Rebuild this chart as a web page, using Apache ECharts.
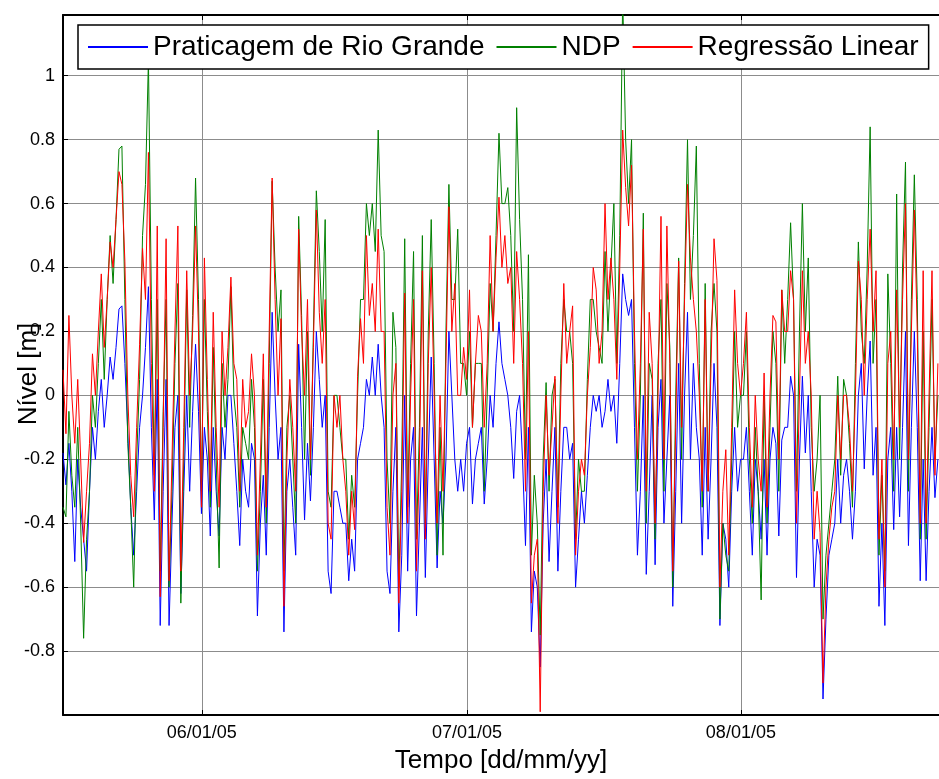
<!DOCTYPE html>
<html>
<head>
<meta charset="utf-8">
<script src="https://cdn.jsdelivr.net/npm/echarts@6/dist/echarts.min.js"></script>
<style>
  html, body { margin: 0; padding: 0; background: #fff; }
  #chart { width: 939px; height: 779px; }
</style>
</head>
<body>
<div id="chart"></div>
<script>
// amostras a cada 8 h, a partir de 16/05/2005 07:00
const startTime = new Date(2005, 4, 16, 7).getTime()
const stepHours = 8

const praticagem = [
  -0.18, -0.28, -0.15,  -0.30, -0.52, -0.20,  -0.35, -0.45, -0.55,  -0.30, -0.10, -0.20,
  -0.05, 0.05, -0.10,   0.00, 0.12, 0.05,     0.15, 0.27, 0.28,     0.10, -0.12, -0.35,
  -0.50, -0.30, -0.10,  0.00, 0.15, 0.34,     -0.10, -0.39, 0.05,   -0.72, -0.30, 0.05,
  -0.72, -0.40, -0.10,  0.00, -0.62, -0.30,   0.00, -0.30, -0.05,   0.16, -0.05, -0.37,
  -0.10, -0.20, -0.44,  -0.10, -0.30, -0.44,  -0.10, -0.20, 0.00,   0.00, -0.15, -0.30,
  -0.47, -0.20, -0.30,  -0.35, -0.15, -0.20,  -0.69, -0.40, -0.25,  -0.50, -0.10, 0.26,
  0.00, -0.20, -0.10,   -0.74, -0.30, -0.20,  -0.35, -0.50, 0.16,   -0.10, -0.39, -0.15,
  -0.33, -0.10, 0.20,   0.05, -0.10, 0.00,    -0.55, -0.62, -0.30,  -0.30, -0.35, -0.40,
  -0.40, -0.58, -0.45,  -0.55, -0.20, -0.15,  -0.10, 0.05, 0.00,    0.12, 0.00, 0.16,
  0.00, -0.10, -0.55,   -0.62, -0.30, -0.10,  -0.74, -0.50, 0.00,   -0.55, -0.20, -0.10,
  -0.69, -0.40, -0.10,  -0.57, -0.20, 0.12,   -0.20, -0.54, -0.30,  -0.40, -0.20, 0.20,
  0.00, -0.20, -0.30,   -0.20, -0.30, -0.15,  -0.10, -0.34, -0.20,  -0.15, -0.10, -0.34,
  -0.20, 0.00, -0.10,   0.10, 0.23, 0.10,     0.05, 0.00, -0.10,    -0.26, -0.05, 0.00,
  -0.20, -0.47, -0.10,  -0.74, -0.55, -0.60,  -0.85, -0.40, -0.20,  -0.52, -0.30, -0.10,
  -0.55, -0.30, -0.10,  -0.10, -0.20, -0.15,  -0.60, -0.45, -0.30,  -0.40, -0.25, -0.10,
  0.00, -0.05, 0.00,    -0.10, -0.05, 0.05,   -0.05, 0.00, -0.15,   0.10, 0.38, 0.30,
  0.25, 0.30, -0.10,    -0.50, -0.30, 0.00,   -0.56, -0.30, 0.00,   -0.53, -0.10, 0.05,
  -0.40, -0.20, 0.00,   -0.66, -0.30, 0.10,   -0.40, 0.00, 0.26,    -0.20, 0.10, -0.10,
  -0.20, -0.50, -0.10,  -0.45, -0.20, 0.10,   -0.10, -0.72, -0.40,  -0.45, -0.60, -0.30,
  -0.10, -0.30, -0.20,  -0.20, -0.10, -0.30,  -0.50, -0.20, -0.30,  -0.45, -0.20, -0.50,
  -0.20, -0.10, -0.15,  -0.44, -0.14, -0.10,  -0.10, 0.06, 0.00,    -0.57, -0.20, 0.06,
  -0.18, 0.00, -0.30,   -0.60, -0.45, -0.50,  -0.95, -0.70, -0.50,  -0.45, -0.40, -0.20,
  -0.40, -0.25, -0.20,  -0.30, -0.45, -0.30,  0.00, 0.10, -0.23,    0.00, 0.17, -0.25,
  -0.10, -0.66, -0.40,  -0.72, -0.20, -0.10,  -0.42, -0.10, -0.38,  -0.10, 0.20, -0.47,
  -0.10, 0.20, -0.10,   -0.58, -0.20, -0.58,  -0.30, -0.10, -0.32,  -0.20
]

const ndp = [
  -0.35, -0.38, -0.05,  -0.25, -0.35, -0.10,  -0.40, -0.76, -0.45,  -0.30, 0.00, -0.10,
  0.10, 0.30, 0.05,     0.30, 0.50, 0.35,     0.55, 0.77, 0.78,     0.30, -0.15, -0.35,
  -0.60, -0.20, 0.05,   0.50, 0.66, 1.05,     0.30, -0.25, 0.30,    -0.55, -0.05, 0.30,
  -0.60, -0.30, 0.10,   0.35, -0.65, -0.20,   0.33, -0.10, 0.25,    0.68, 0.30, -0.30,
  0.30, -0.05, -0.35,   0.15, -0.20, -0.54,   0.10, -0.10, 0.05,    0.34, 0.00, -0.10,
  -0.35, -0.10, -0.15,  -0.20, 0.05, -0.10,   -0.55, -0.30, 0.05,   -0.40, 0.10, 0.67,
  0.40, 0.20, 0.33,     -0.55, -0.10, 0.00,   -0.20, -0.40, 0.56,   0.25, -0.20, 0.20,
  -0.25, 0.20, 0.64,    0.45, 0.20, 0.55,     -0.30, -0.35, 0.00,   0.00, -0.10, -0.20,
  -0.20, -0.45, -0.25,  -0.35, 0.00, 0.30,    0.30, 0.60, 0.50,     0.60, 0.45, 0.83,
  0.50, 0.45, -0.20,    -0.40, 0.26, 0.15,    -0.60, -0.20, 0.49,   -0.35, 0.10, 0.45,
  -0.45, -0.10, 0.50,   -0.40, 0.20, 0.55,    0.10, -0.50, -0.10,   -0.50, 0.20, 0.66,
  0.30, 0.30, 0.52,     0.10, 0.10, 0.00,     0.20, -0.10, 0.10,    0.10, 0.10, -0.30,
  0.00, 0.35, 0.20,     0.50, 0.82, 0.60,     0.60, 0.65, 0.50,     0.20, 0.90, 0.55,
  0.30, -0.20, 0.44,    -0.50, -0.25, -0.40,  -0.75, -0.20, 0.04,   -0.30, 0.00, 0.05,
  -0.35, 0.10, 0.30,    0.20, 0.20, 0.10,     -0.45, -0.20, -0.30,  -0.30, 0.05, 0.30,
  0.30, 0.20, 0.15,     0.10, 0.45, 0.20,     0.40, 0.60, 0.10,     0.50, 1.25, 0.80,
  0.60, 0.80, 0.10,     -0.30, 0.00, 0.57,    -0.40, 0.10, 0.05,    -0.45, 0.10, 0.30,
  -0.30, 0.35, 0.15,    -0.60, 0.00, 0.43,    -0.20, 0.35, 0.80,    0.30, 0.50, 0.78,
  0.10, -0.35, 0.35,    -0.30, 0.20, 0.35,    0.20, -0.70, -0.40,   -0.50, -0.55, -0.20,
  0.20, -0.10, 0.00,    0.00, 0.20, -0.20,    -0.40, -0.10, -0.30,  -0.64, 0.00, -0.40,
  -0.10, 0.20, 0.10,    -0.30, 0.33, 0.10,    0.30, 0.54, 0.30,     -0.30, 0.20, 0.60,
  0.20, 0.43, -0.10,    -0.30, -0.20, 0.00,   -0.70, -0.50, -0.40,  -0.30, -0.20, 0.06,
  -0.25, 0.05, 0.00,    -0.15, -0.35, 0.10,   0.48, 0.20, 0.10,     0.40, 0.84, 0.10,
  0.30, -0.50, -0.25,   -0.55, 0.38, 0.10,    -0.30, 0.63, -0.20,   0.40, 0.73, -0.30,
  0.30, 0.69, 0.30,     -0.45, 0.20, -0.45,   -0.10, 0.30, -0.20,   0.00
]

const regressao = [
  0.08, -0.12, 0.25,    0.00, -0.15, 0.05,    -0.20, -0.46, -0.30,  -0.15, 0.13, 0.00,
  0.20, 0.38, 0.15,     0.30, 0.48, 0.40,     0.55, 0.70, 0.66,     0.42, 0.00, -0.25,
  -0.38, -0.10, 0.16,   0.46, 0.30, 0.76,     0.10, -0.30, 0.53,    -0.63, -0.10, 0.49,
  -0.58, -0.20, 0.20,   0.53, -0.55, -0.10,   0.39, 0.00, 0.20,     0.53, 0.20, -0.35,
  0.43, 0.05, -0.30,    0.26, -0.10, -0.35,   0.20, 0.00, 0.15,     0.37, 0.10, 0.05,
  -0.30, 0.05, -0.10,   -0.05, 0.13, 0.00,    -0.50, -0.20, 0.13,   -0.35, 0.20, 0.68,
  0.30, 0.00, 0.24,     -0.66, -0.20, 0.05,   -0.10, -0.30, 0.52,   0.20, 0.00, 0.30,
  -0.20, 0.15, 0.58,    0.26, 0.10, 0.30,     -0.40, -0.45, 0.00,   -0.10, 0.00, -0.20,
  -0.30, -0.50, -0.30,  -0.42, 0.06, 0.24,    0.10, 0.50, 0.25,     0.35, 0.20, 0.52,
  0.20, 0.20, -0.35,    -0.50, 0.00, 0.10,    -0.65, -0.30, 0.32,   -0.40, 0.00, 0.30,
  -0.55, -0.20, 0.39,   -0.45, 0.10, 0.40,    0.00, -0.40, 0.00,    -0.30, 0.10, 0.59,
  0.20, 0.35, 0.00,     0.00, 0.15, 0.05,     0.33, -0.10, 0.10,    0.25, 0.20, -0.10,
  0.10, 0.50, 0.20,     0.43, 0.62, 0.40,     0.50, 0.35, 0.40,     0.10, 0.45, 0.30,
  0.10, -0.30, 0.20,    -0.65, -0.50, -0.45,  -0.99, -0.30, 0.00,   -0.25, -0.10, 0.06,
  -0.40, 0.00, 0.35,    0.10, 0.20, 0.28,     -0.50, -0.30, -0.20,  -0.25, 0.00, 0.15,
  0.40, 0.33, 0.10,     0.20, 0.60, 0.30,     0.43, 0.30, 0.05,     0.40, 0.83, 0.65,
  0.53, 0.72, 0.20,     -0.20, 0.10, 0.52,    -0.30, 0.26, 0.10,    -0.40, 0.00, 0.56,
  -0.20, 0.53, 0.10,    -0.55, -0.10, 0.42,   -0.10, 0.30, 0.66,    0.43, 0.30, 0.20,
  0.00, -0.30, 0.30,    -0.30, 0.10, 0.49,    0.36, -0.60, -0.30,   -0.17, -0.50, -0.10,
  0.33, 0.10, 0.00,     0.10, 0.26, -0.10,    -0.35, 0.00, -0.20,   -0.30, 0.07, -0.35,
  0.00, 0.25, 0.23,     -0.20, 0.33, 0.20,    0.20, 0.39, 0.30,     -0.40, 0.00, 0.39,
  0.10, 0.20, 0.00,     -0.45, -0.30, -0.43,  -0.90, -0.60, -0.45,  -0.35, -0.30, 0.00,
  -0.20, 0.00, 0.00,    -0.10, -0.30, 0.00,   0.42, 0.30, 0.00,     0.30, 0.52, 0.20,
  0.39, -0.45, -0.20,   -0.60, 0.10, 0.20,    -0.20, 0.33, -0.10,   0.30, 0.60, -0.20,
  0.20, 0.58, 0.20,     -0.40, 0.39, -0.40,   0.00, 0.39, -0.25,    0.10
]

const axisMin = new Date(2005, 4, 16, 7).getTime()
const axisMax = new Date(2005, 7, 23, 10).getTime()
const day = 24 * 3600 * 1000

function toPoints(values) {
  return values.map((v, i) => [startTime + i * stepHours * 3600 * 1000, v])
}

function pad(n) {
  return (n < 10 ? '0' : '') + n
}

const chart = echarts.init(document.getElementById('chart'))

chart.setOption({
  animation: false,
  backgroundColor: '#fff',
  textStyle: { fontFamily: 'Liberation Sans, Arial, sans-serif' },
  grid: { left: 63, top: 15, right: 0, bottom: 64, containLabel: false, outerBoundsMode: 'none' },
  legend: {
    left: 78,
    top: 25,
    padding: [8, 10],
    itemGap: 12,
    itemWidth: 60,
    itemHeight: 2,
    icon: 'rect',
    borderColor: '#000',
    borderWidth: 1.5,
    backgroundColor: '#fff',
    textStyle: { fontSize: 28, color: '#000' },
    data: ['Praticagem de Rio Grande', 'NDP', 'Regressão Linear']
  },
  xAxis: [
    {
      type: 'time',
      min: axisMin,
      max: axisMax,
      minInterval: 28 * day,
      maxInterval: 31 * day,
      name: 'Tempo [dd/mm/yy]',
      nameLocation: 'middle',
      nameGap: 33,
      nameMoveOverlap: false,
      nameTextStyle: { fontSize: 26, color: '#000' },
      axisLine: { onZero: false, lineStyle: { color: '#000', width: 2 } },
      axisTick: { inside: true, length: 5, lineStyle: { color: '#000' } },
      minorTick: { show: false },
      axisLabel: {
        fontSize: 18,
        color: '#000',
        margin: 9,
        showMinLabel: false,
        showMaxLabel: false,
        formatter: value => {
          const d = new Date(value)
          return pad(d.getMonth() + 1) + '/' + pad(d.getDate()) + '/' + pad(d.getFullYear() % 100)
        }
      },
      splitLine: { show: true, lineStyle: { color: '#8c8c8c', width: 1 } }
    },
    {
      type: 'time',
      position: 'top',
      min: axisMin,
      max: axisMax,
      minInterval: 28 * day,
      maxInterval: 31 * day,
      axisLine: { onZero: false, lineStyle: { color: '#000', width: 2 } },
      axisTick: { inside: true, length: 5, lineStyle: { color: '#000' } },
      axisLabel: { show: false },
      splitLine: { show: false }
    }
  ],
  yAxis: {
    type: 'value',
    min: -1,
    max: 1.19,
    interval: 0.2,
    name: 'Nível [m]',
    nameLocation: 'middle',
    nameGap: 21,
    nameMoveOverlap: false,
    nameTextStyle: { fontSize: 26, color: '#000', padding: [0, 18, 0, 0] },
    axisLine: { show: true, onZero: false, lineStyle: { color: '#000', width: 2 } },
    axisTick: { show: true, inside: true, length: 5, lineStyle: { color: '#000' } },
    axisLabel: { fontSize: 18, color: '#000', margin: 8, showMinLabel: false, showMaxLabel: false },
    splitLine: { show: true, lineStyle: { color: '#8c8c8c', width: 1 } }
  },
  series: [
    {
      name: 'Praticagem de Rio Grande',
      type: 'line',
      data: toPoints(praticagem),
      showSymbol: false,
      color: '#0000ff',
      lineStyle: { width: 1 }
    },
    {
      name: 'NDP',
      type: 'line',
      data: toPoints(ndp),
      showSymbol: false,
      color: '#008000',
      lineStyle: { width: 1 }
    },
    {
      name: 'Regressão Linear',
      type: 'line',
      data: toPoints(regressao),
      showSymbol: false,
      color: '#ff0000',
      lineStyle: { width: 1 }
    }
  ]
})
</script>
</body>
</html>
